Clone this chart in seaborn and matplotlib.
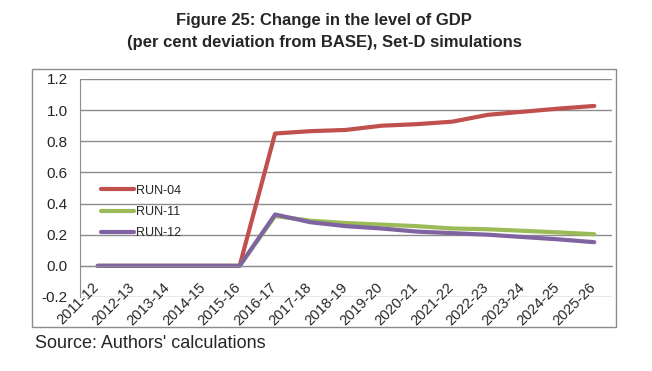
import matplotlib
matplotlib.use("Agg")
import matplotlib.pyplot as plt
import matplotlib.transforms as mtransforms
import seaborn as sns
import pandas as pd
from matplotlib.patches import Rectangle

years = ["2011-12", "2012-13", "2013-14", "2014-15", "2015-16", "2016-17",
         "2017-18", "2018-19", "2019-20", "2020-21", "2021-22", "2022-23",
         "2023-24", "2024-25", "2025-26"]
run_04 = [0, 0, 0, 0, 0, 0.85, 0.865, 0.873, 0.90, 0.91, 0.926, 0.97, 0.99, 1.01, 1.027]
run_11 = [0, 0, 0, 0, 0, 0.32, 0.29, 0.275, 0.265, 0.255, 0.24, 0.235, 0.225, 0.215, 0.203]
run_12 = [0, 0, 0, 0, 0, 0.33, 0.28, 0.255, 0.24, 0.22, 0.21, 0.20, 0.185, 0.17, 0.152]
runs = ["RUN-04", "RUN-11", "RUN-12"]
colors = ["#C0504D", "#9BBB59", "#8064A2"]

df = pd.DataFrame({
    "year": years * 3,
    "pos": list(range(len(years))) * 3,
    "value": run_04 + run_11 + run_12,
    "run": [r for r in runs for _ in years],
})

sns.set_style("white")
plt.rcParams["font.family"] = ["Liberation Sans", "DejaVu Sans"]

fig = plt.figure(figsize=(6.52, 3.71), dpi=100)
ax = fig.add_axes([80 / 652, 1 - 297 / 371, 532 / 652, 218 / 371])

sns.lineplot(data=df, x="pos", y="value", hue="run", palette=colors,
             linewidth=3, ax=ax, legend=True)

# spines first: moving the bottom spine resets the x ticks
for side in ["top", "right"]:
    ax.spines[side].set_visible(False)
ax.spines["bottom"].set_position(("data", 0))
ax.spines["bottom"].set_color("#8c8c8c")
ax.spines["left"].set_color("#8c8c8c")

ax.set_xlim(-0.5, len(years) - 0.5)
ax.set_ylim(-0.2, 1.2)
ax.set_yticks([-0.2, 0.0, 0.2, 0.4, 0.6, 0.8, 1.0, 1.2])
ax.set_yticklabels([f"{v:.1f}" for v in ax.get_yticks()], fontsize=11)
ax.yaxis.grid(True, color="#8c8c8c", linewidth=1)
ax.set_axisbelow(True)

ax.set_xticks(range(len(years)))
ax.set_xticks([i - 0.5 for i in range(len(years) + 1)], minor=True)
ax.tick_params(axis="x", which="major", length=0, pad=10)
ax.tick_params(axis="x", which="minor", direction="out", length=5,
               color="#8c8c8c")
ax.tick_params(axis="y", direction="out", length=4, color="#8c8c8c", pad=5)
ax.set_xticklabels(years, fontsize=10.5, rotation=45, ha="right",
                   rotation_mode="anchor")
shift = mtransforms.ScaledTranslation(-6 / 100, 0, fig.dpi_scale_trans)
for lbl in ax.get_xticklabels():
    lbl.set_transform(lbl.get_transform() + shift)
ax.set_xlabel("")
ax.set_ylabel("")

ax.legend(loc="upper left", bbox_to_anchor=(0.031, 0.538), frameon=False,
          fontsize=9, handlelength=2.6, handletextpad=0.15,
          labelspacing=0.75, borderaxespad=0)

fig.patches.append(Rectangle((32 / 652, 1 - 327 / 371), 584 / 652, 258 / 371,
                             transform=fig.transFigure, fill=False,
                             edgecolor="#8c8c8c", linewidth=1))

fig.text(324 / 652, 1 - 20 / 371, "Figure 25: Change in the level of GDP",
         ha="center", va="center", fontsize=12, fontweight="bold")
fig.text(324 / 652, 1 - 42 / 371, "(per cent deviation from BASE), Set-D simulations",
         ha="center", va="center", fontsize=12, fontweight="bold")
fig.text(35 / 652, 1 - 343 / 371, "Source: Authors' calculations",
         ha="left", va="center", fontsize=13)

fig.savefig("out.png", dpi=100)
